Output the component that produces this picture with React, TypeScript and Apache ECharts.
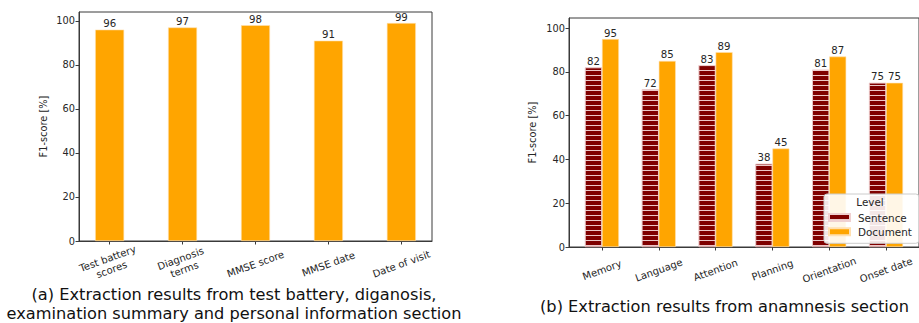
import React, { useEffect, useRef } from 'react';
import * as echarts from 'echarts';

const catsA = ['Test battery\nscores', 'Diagnosis\nterms', 'MMSE score', 'MMSE date', 'Date of visit'];
const valsA = [96, 97, 98, 91, 99];
const catsB = ['Memory', 'Language', 'Attention', 'Planning', 'Orientation', 'Onset date'];
const sentenceVals = [82, 72, 83, 38, 81, 75];
const documentVals = [95, 85, 89, 45, 87, 75];
const yTicks = [0, 20, 40, 60, 80, 100];
const captionA = '(a) Extraction results from test battery, diganosis,\nexamination summary and personal information section';
const captionB = '(b) Extraction results from anamnesis section';
const yName = 'F1-score [%]';
const legendTitle = 'Level';

const FONT = 'DejaVu Sans';
const SPINE = '#3a3a3a';
const TXT = '#262626';
const ORANGE = '#FFA500';
const MAROON = '#800000';

export default function App() {
  const ref = useRef<HTMLDivElement>(null);
  useEffect(() => {
    document.body.style.margin = '0';
    const chart = echarts.init(ref.current!, undefined, { renderer: 'svg' });
    const idxA = catsA.map((_, i) => i);
    const idxB = catsB.map((_, i) => i);
    const xAxisBase = (gridIndex: number, min: number, max: number, ticks: number[], cats: string[]) => ({
      gridIndex,
      type: 'value',
      min,
      max,
      axisLine: { show: true, onZero: false, lineStyle: { color: SPINE, width: 1 } },
      axisTick: { show: true, customValues: ticks, length: 3.5, lineStyle: { color: SPINE, width: 1 } },
      axisLabel: {
        show: true,
        customValues: ticks,
        formatter: (v: number) => cats[Math.round(v)],
        rotate: 20,
        align: 'center',
        verticalAlign: 'middle',
        margin: 23,
        fontSize: 10,
        color: TXT,
        fontFamily: FONT,
        lineHeight: 11.5,
      },
      splitLine: { show: false },
    });
    const yAxisBase = (gridIndex: number, max: number, nameGap: number) => ({
      gridIndex,
      type: 'value',
      min: 0,
      max,
      axisLine: { show: true, onZero: false, lineStyle: { color: SPINE, width: 1 } },
      axisTick: { show: true, customValues: yTicks, length: 3.5, lineStyle: { color: SPINE, width: 1 } },
      axisLabel: { show: true, customValues: yTicks, margin: 4, fontSize: 9.8, color: TXT, fontFamily: FONT },
      splitLine: { show: false },
      name: yName,
      nameLocation: 'middle',
      nameGap,
      nameTextStyle: { fontSize: 9.8, color: TXT, fontFamily: FONT },
    });
    const valueLabel = {
      show: true,
      position: 'top',
      distance: 1,
      fontSize: 10.2,
      color: TXT,
      fontFamily: FONT,
      formatter: (p: any) => String(p.value[1]),
    };
    chart.setOption({
      animation: false,
      backgroundColor: '#fff',
      grid: [
        { left: 79, top: 12, width: 353, height: 229, show: true, borderColor: SPINE, borderWidth: 1 },
        { left: 569, top: 18, width: 354, height: 229, show: true, borderColor: SPINE, borderWidth: 1 },
      ],
      xAxis: [xAxisBase(0, -0.42, 4.42, idxA, catsA), xAxisBase(1, -0.58, 5.58, idxB, catsB)],
      yAxis: [yAxisBase(0, 104, 31), yAxisBase(1, 104.6, 32)],
      legend: {
        data: ['Sentence', 'Document'],
        orient: 'vertical',
        left: 824,
        top: 194,
        icon: 'rect',
        itemWidth: 21,
        itemHeight: 7,
        itemGap: 3.3,
        padding: [18, 7, 6, 4],
        backgroundColor: 'rgba(255,255,255,0.9)',
        borderColor: '#cccccc',
        borderWidth: 1,
        borderRadius: 3,
        textStyle: { fontSize: 10.4, color: TXT, fontFamily: FONT, lineHeight: 11, padding: [0, 0, 0, 3] },
      },
      series: [
        {
          type: 'bar',
          xAxisIndex: 0,
          yAxisIndex: 0,
          data: valsA.map((v, i) => [i, v]),
          barWidth: 29,
          itemStyle: { color: ORANGE, borderColor: '#ffe0b0', borderWidth: 0.6 },
          label: valueLabel,
        },
        {
          type: 'bar',
          name: 'Sentence',
          xAxisIndex: 1,
          yAxisIndex: 1,
          data: sentenceVals.map((v, i) => [i, v]),
          barWidth: 17,
          barGap: '0%',
          itemStyle: {
            color: MAROON,
            borderColor: '#f0d0d0',
            borderWidth: 0.6,
            decal: {
              symbol: 'rect',
              symbolSize: 1,
              color: 'rgba(255,235,235,0.85)',
              dashArrayX: [1, 0],
              dashArrayY: [1, 4],
              rotation: 0,
            },
          },
          label: valueLabel,
        },
        {
          type: 'bar',
          name: 'Document',
          xAxisIndex: 1,
          yAxisIndex: 1,
          data: documentVals.map((v, i) => [i, v]),
          barWidth: 17,
          barGap: '0%',
          itemStyle: { color: ORANGE, borderColor: '#ffe0b0', borderWidth: 0.6 },
          label: valueLabel,
        },
      ],
      graphic: [
        {
          type: 'text',
          x: 870,
          y: 202,
          z: 100,
          style: { text: legendTitle, fontSize: 10.4, fill: TXT, fontFamily: FONT, textAlign: 'center', textVerticalAlign: 'middle' },
        },
        {
          type: 'text',
          x: 234,
          y: 304,
          style: { text: captionA, fontSize: 16.2, lineHeight: 18.5, fill: '#111', fontFamily: FONT, textAlign: 'center', textVerticalAlign: 'middle' },
        },
        {
          type: 'text',
          x: 724.5,
          y: 306,
          style: { text: captionB, fontSize: 16.2, fill: '#111', fontFamily: FONT, textAlign: 'center', textVerticalAlign: 'middle' },
        },
      ],
    });
    return () => chart.dispose();
  }, []);
  return <div ref={ref} style={{ width: 919, height: 323 }} />;
}
